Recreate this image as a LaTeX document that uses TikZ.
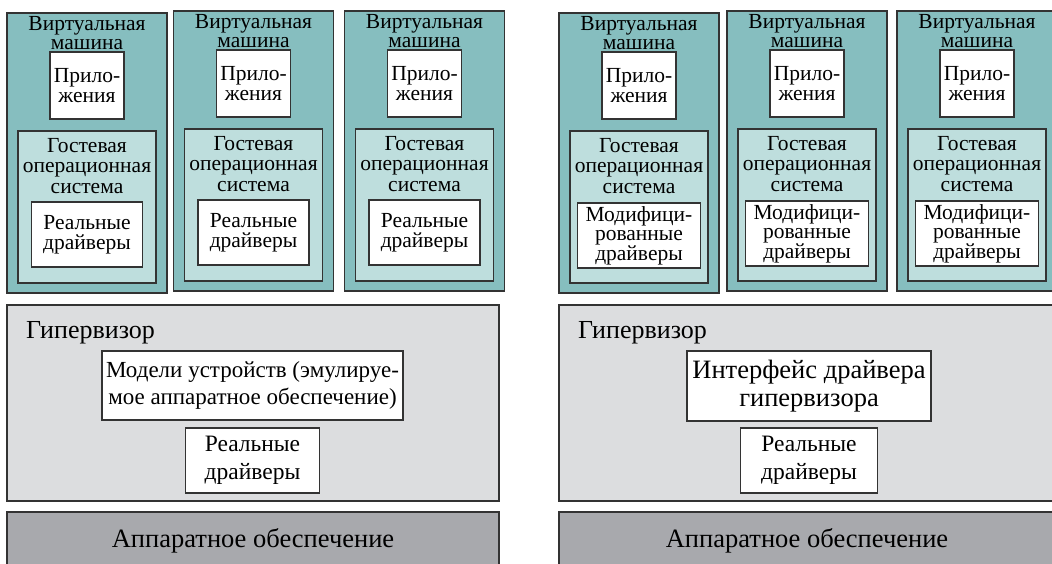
\documentclass[tikz,border=0pt]{standalone}
\usepackage{fontspec}
\setmainfont{Liberation Serif}
\usetikzlibrary{positioning}

\definecolor{vmteal}{RGB}{134,190,191}
\definecolor{guestcyan}{RGB}{190,222,221}
\definecolor{hypgray}{RGB}{220,221,223}
\definecolor{hwgray}{RGB}{168,169,173}

\newcommand\vmtext{\fontsize{21.5}{20.5}\selectfont}
\newcommand\vmtitle{\fontsize{21.5}{19.5}\selectfont}
\newcommand\hyptext{\fontsize{23}{27.5}\selectfont}

\begin{document}
\begin{tikzpicture}[
    x=1pt, y=-1pt,
    box/.style={draw=black!80, line width=1.3pt, inner sep=0pt, outer sep=0pt,
        align=center, font=\vmtext},
    vm/.style={box, fill=vmteal, minimum width=160pt, minimum height=280pt},
    guest/.style={box, fill=guestcyan, minimum width=138pt, minimum height=152pt},
    app/.style={box, fill=white, minimum width=74pt, minimum height=67pt},
    drv/.style={box, fill=white, minimum width=111pt, minimum height=65pt},
    moddrv/.style={drv, minimum width=123pt, font=\fontsize{21.5}{19.5}\selectfont},
    hyp/.style={box, fill=hypgray, minimum width=492pt, minimum height=196pt},
    hw/.style={box, fill=hwgray, minimum width=492pt, minimum height=58pt,
        font=\fontsize{26.5}{28}\selectfont},
    hbox/.style={box, fill=white, font=\hyptext},
    tag/.style={inner sep=0pt, align=center},
]
\useasboundingbox (0,0) rectangle (1052,564);
\clip (0,0) rectangle (1052,564);

% ---- virtual machines, real drivers (left) ----
\foreach \n/\x/\y in {1/87/153, 2/253.5/151, 3/424.5/151} {
    \node[vm] (vmL\n) at (\x,\y) {};
    \node[tag, font=\vmtitle, anchor=north] (vmL\n t) at ([yshift=-3pt]vmL\n.north)
        {Виртуальная\\машина};
    \node[app, below=39pt of vmL\n.north] (appL\n) {Прило-\\жения};
    \node[guest, below=118pt of vmL\n.north] (osL\n) {};
    \node[tag, font=\vmtext, anchor=north] (osL\n t) at ([yshift=-7pt]osL\n.north)
        {Гостевая\\операционная\\система};
    \node[drv, below=189pt of vmL\n.north] (drvL\n) {Реальные\\драйверы};
}

% ---- virtual machines, modified drivers (right) ----
\foreach \n/\x/\y in {1/639/153, 2/807/151, 3/977/151} {
    \node[vm] (vmR\n) at (\x,\y) {};
    \node[tag, font=\vmtitle, anchor=north] (vmR\n t) at ([yshift=-3pt]vmR\n.north)
        {Виртуальная\\машина};
    \node[app, below=39pt of vmR\n.north] (appR\n) {Прило-\\жения};
    \node[guest, below=118pt of vmR\n.north] (osR\n) {};
    \node[tag, font=\vmtext, anchor=north] (osR\n t) at ([yshift=-7pt]osR\n.north)
        {Гостевая\\операционная\\система};
    \node[moddrv, below=190pt of vmR\n.north] (drvR\n) {Модифици-\\рованные\\драйверы};
}

% ---- hypervisors ----
\node[hyp] (hypL) at (253,403) {};
\node[tag, font=\fontsize{26}{28}\selectfont, anchor=base west] (hypLt)
    at ([xshift=19pt,yshift=-33pt]hypL.north west) {Гипервизор};
\node[hbox, minimum width=301pt, minimum height=69pt] (models) at (252.5,385.5)
    {Модели устройств (эмулируе-\\мое аппаратное обеспечение)};
\node[hbox, minimum width=134pt, minimum height=65pt, below=8pt of models,
      font=\fontsize{23.5}{28}\selectfont] (realL) {Реальные\\драйверы};

\node[hyp, minimum width=496pt] (hypR) at (807,403) {};
\node[tag, font=\fontsize{26}{28}\selectfont, anchor=base west] (hypRt)
    at ([xshift=19pt,yshift=-33pt]hypR.north west) {Гипервизор};
\node[hbox, minimum width=244pt, minimum height=70pt,
      font=\fontsize{26.5}{28}\selectfont] (iface) at (809,386)
    {Интерфейс драйвера\\гипервизора};
\node[hbox, minimum width=137pt, minimum height=65pt, below=7pt of iface,
      font=\fontsize{23.5}{28}\selectfont] (realR) {Реальные\\драйверы};

% ---- hardware ----
\node[hw] (hwL) at (253,541) {Аппаратное обеспечение};
\node[hw, minimum width=496pt] (hwR) at (807,541) {Аппаратное обеспечение};

\end{tikzpicture}
\end{document}
